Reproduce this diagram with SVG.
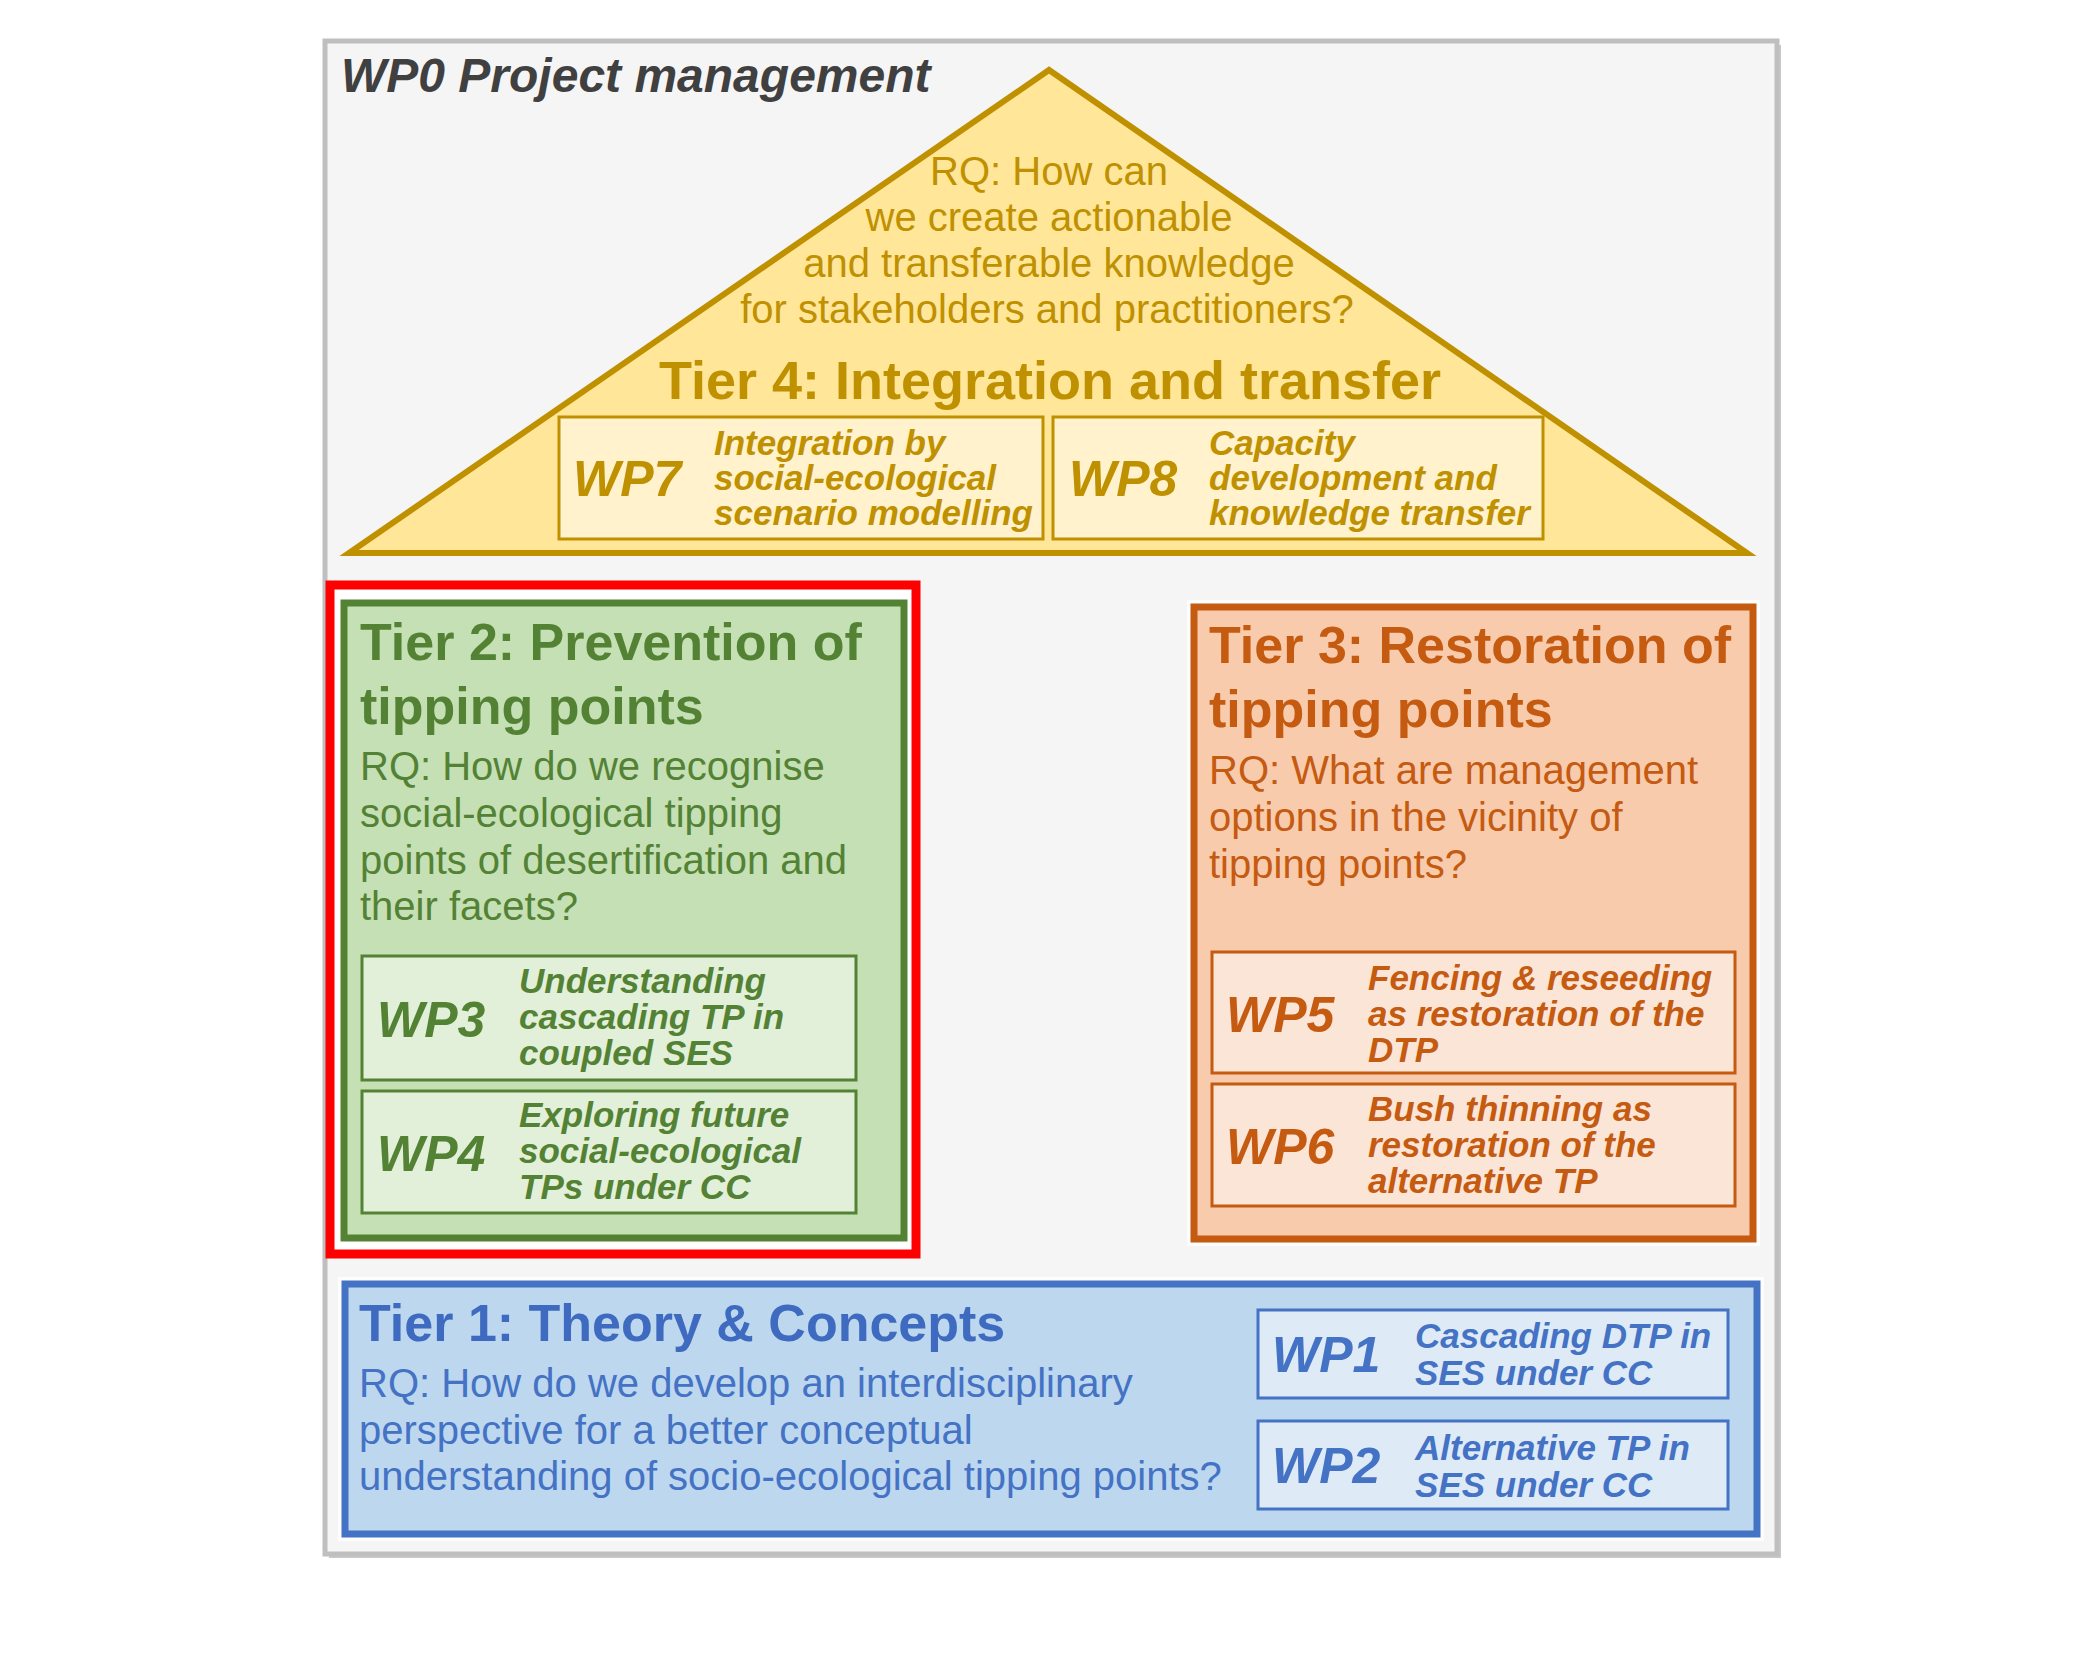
<svg xmlns="http://www.w3.org/2000/svg" width="2100" height="1680" viewBox="0 0 2100 1680">
<style>
text{font-family:"Liberation Sans",Arial,Helvetica,sans-serif}
.ttl{font-size:52px;font-weight:bold}
.rq{font-size:40px}
.wp{font-size:50px;font-weight:bold;font-style:italic}
.ds{font-size:35px;font-weight:bold;font-style:italic}
.halo{fill:none;stroke:#FFFFFF;stroke-width:14;opacity:0.8}
.gold{fill:#BF9000}.grn{fill:#548235}.org{fill:#C55A11}.blu{fill:#4472C4}
</style>
<rect width="2100" height="1680" fill="#FFFFFF"/>
<g id="wp0">
<rect x="329" y="45" width="1452" height="1513" fill="#C8C8C8"/>
<rect x="325" y="41" width="1452" height="1513" fill="#F5F5F5" stroke="#BFBFBF" stroke-width="5"/>
<text x="341" y="92" font-size="48" font-weight="bold" font-style="italic" fill="#404040">WP0 Project management</text>
</g>
<g id="tier4">
<polygon points="1049,70 349,553 1747,553" fill="#FFE699" stroke="#BF9000" stroke-width="6" stroke-linejoin="miter"/>
<g class="gold" text-anchor="middle">
<text class="rq" x="1049" y="185">RQ: How can</text>
<text class="rq" x="1049" y="231">we create actionable</text>
<text class="rq" x="1049" y="277">and transferable knowledge</text>
<text class="rq" x="1047" y="323">for stakeholders and practitioners?</text>
<text x="1050" y="399" font-size="54" font-weight="bold">Tier 4: Integration and transfer</text>
</g>
</g>
<g id="wp7">
<rect x="559" y="417" width="484" height="122" fill="#FFF2CC" stroke="#BF9000" stroke-width="3"/>
<g class="gold"><text class="wp" x="573" y="496">WP7</text>
<text class="ds" x="714" y="455">Integration by</text>
<text class="ds" x="714" y="490">social-ecological</text>
<text class="ds" x="714" y="525">scenario modelling</text></g>
</g>
<g id="wp8">
<rect x="1053" y="417" width="490" height="122" fill="#FFF2CC" stroke="#BF9000" stroke-width="3"/>
<g class="gold"><text class="wp" x="1069" y="496">WP8</text>
<text class="ds" x="1209" y="455">Capacity</text>
<text class="ds" x="1209" y="490">development and</text>
<text class="ds" x="1209" y="525">knowledge transfer</text></g>
</g>
<g id="highlight">
<rect x="330" y="585" width="586" height="669" fill="#FFFFFF" stroke="#FF0000" stroke-width="9"/>
</g>
<g id="tier2">
<rect x="344" y="603" width="560" height="635" fill="#C5E0B4" stroke="#548235" stroke-width="7"/>
<g class="grn">
<text class="ttl" x="360" y="660">Tier 2: Prevention of</text>
<text class="ttl" x="360" y="724">tipping points</text>
<text class="rq" x="360" y="780">RQ: How do we recognise</text>
<text class="rq" x="360" y="827">social-ecological tipping</text>
<text class="rq" x="360" y="874">points of desertification and</text>
<text class="rq" x="360" y="920">their facets?</text>
</g>
</g>
<g id="wp3">
<rect x="362" y="956" width="494" height="124" fill="#E2F0D9" stroke="#548235" stroke-width="3"/>
<g class="grn"><text class="wp" x="377" y="1037">WP3</text>
<text class="ds" x="519" y="993">Understanding</text>
<text class="ds" x="519" y="1029">cascading TP in</text>
<text class="ds" x="519" y="1065">coupled SES</text></g>
</g>
<g id="wp4">
<rect x="362" y="1091" width="494" height="122" fill="#E2F0D9" stroke="#548235" stroke-width="3"/>
<g class="grn"><text class="wp" x="377" y="1171">WP4</text>
<text class="ds" x="519" y="1127">Exploring future</text>
<text class="ds" x="519" y="1163">social-ecological</text>
<text class="ds" x="519" y="1199">TPs under CC</text></g>
</g>
<g id="tier3">
<rect x="1194" y="607" width="559" height="632" class="halo"/>
<rect x="1194" y="607" width="559" height="632" fill="#F8CBAD" stroke="#C55A11" stroke-width="7"/>
<g class="org">
<text class="ttl" x="1209" y="663">Tier 3: Restoration of</text>
<text class="ttl" x="1209" y="727">tipping points</text>
<text class="rq" x="1209" y="784">RQ: What are management</text>
<text class="rq" x="1209" y="831">options in the vicinity of</text>
<text class="rq" x="1209" y="878">tipping points?</text>
</g>
</g>
<g id="wp5">
<rect x="1212" y="952" width="523" height="121" fill="#FBE5D6" stroke="#C55A11" stroke-width="3"/>
<g class="org"><text class="wp" x="1226" y="1032">WP5</text>
<text class="ds" x="1368" y="990">Fencing &amp; reseeding</text>
<text class="ds" x="1368" y="1026">as restoration of the</text>
<text class="ds" x="1368" y="1062">DTP</text></g>
</g>
<g id="wp6">
<rect x="1212" y="1084" width="523" height="122" fill="#FBE5D6" stroke="#C55A11" stroke-width="3"/>
<g class="org"><text class="wp" x="1226" y="1164">WP6</text>
<text class="ds" x="1368" y="1121">Bush thinning as</text>
<text class="ds" x="1368" y="1157">restoration of the</text>
<text class="ds" x="1368" y="1193">alternative TP</text></g>
</g>
<g id="tier1">
<rect x="345" y="1284" width="1412" height="250" class="halo"/>
<rect x="345" y="1284" width="1412" height="250" fill="#BDD7EE" stroke="#4472C4" stroke-width="7"/>
<g class="blu">
<text class="ttl" x="359" y="1341" fill="#3E6BBF">Tier 1: Theory &amp; Concepts</text>
<text class="rq" x="359" y="1397">RQ: How do we develop an interdisciplinary</text>
<text class="rq" x="359" y="1444">perspective for a better conceptual</text>
<text class="rq" x="359" y="1490">understanding of socio-ecological tipping points?</text>
</g>
</g>
<g id="wp1">
<rect x="1258" y="1310" width="470" height="88" fill="#DEEBF7" stroke="#4472C4" stroke-width="3"/>
<g class="blu"><text class="wp" x="1272" y="1372">WP1</text>
<text class="ds" x="1415" y="1348">Cascading DTP in</text>
<text class="ds" x="1415" y="1385">SES under CC</text></g>
</g>
<g id="wp2">
<rect x="1258" y="1421" width="470" height="88" fill="#DEEBF7" stroke="#4472C4" stroke-width="3"/>
<g class="blu"><text class="wp" x="1272" y="1483">WP2</text>
<text class="ds" x="1415" y="1460">Alternative TP in</text>
<text class="ds" x="1415" y="1497">SES under CC</text></g>
</g>
<g id="connectors"/>
</svg>
